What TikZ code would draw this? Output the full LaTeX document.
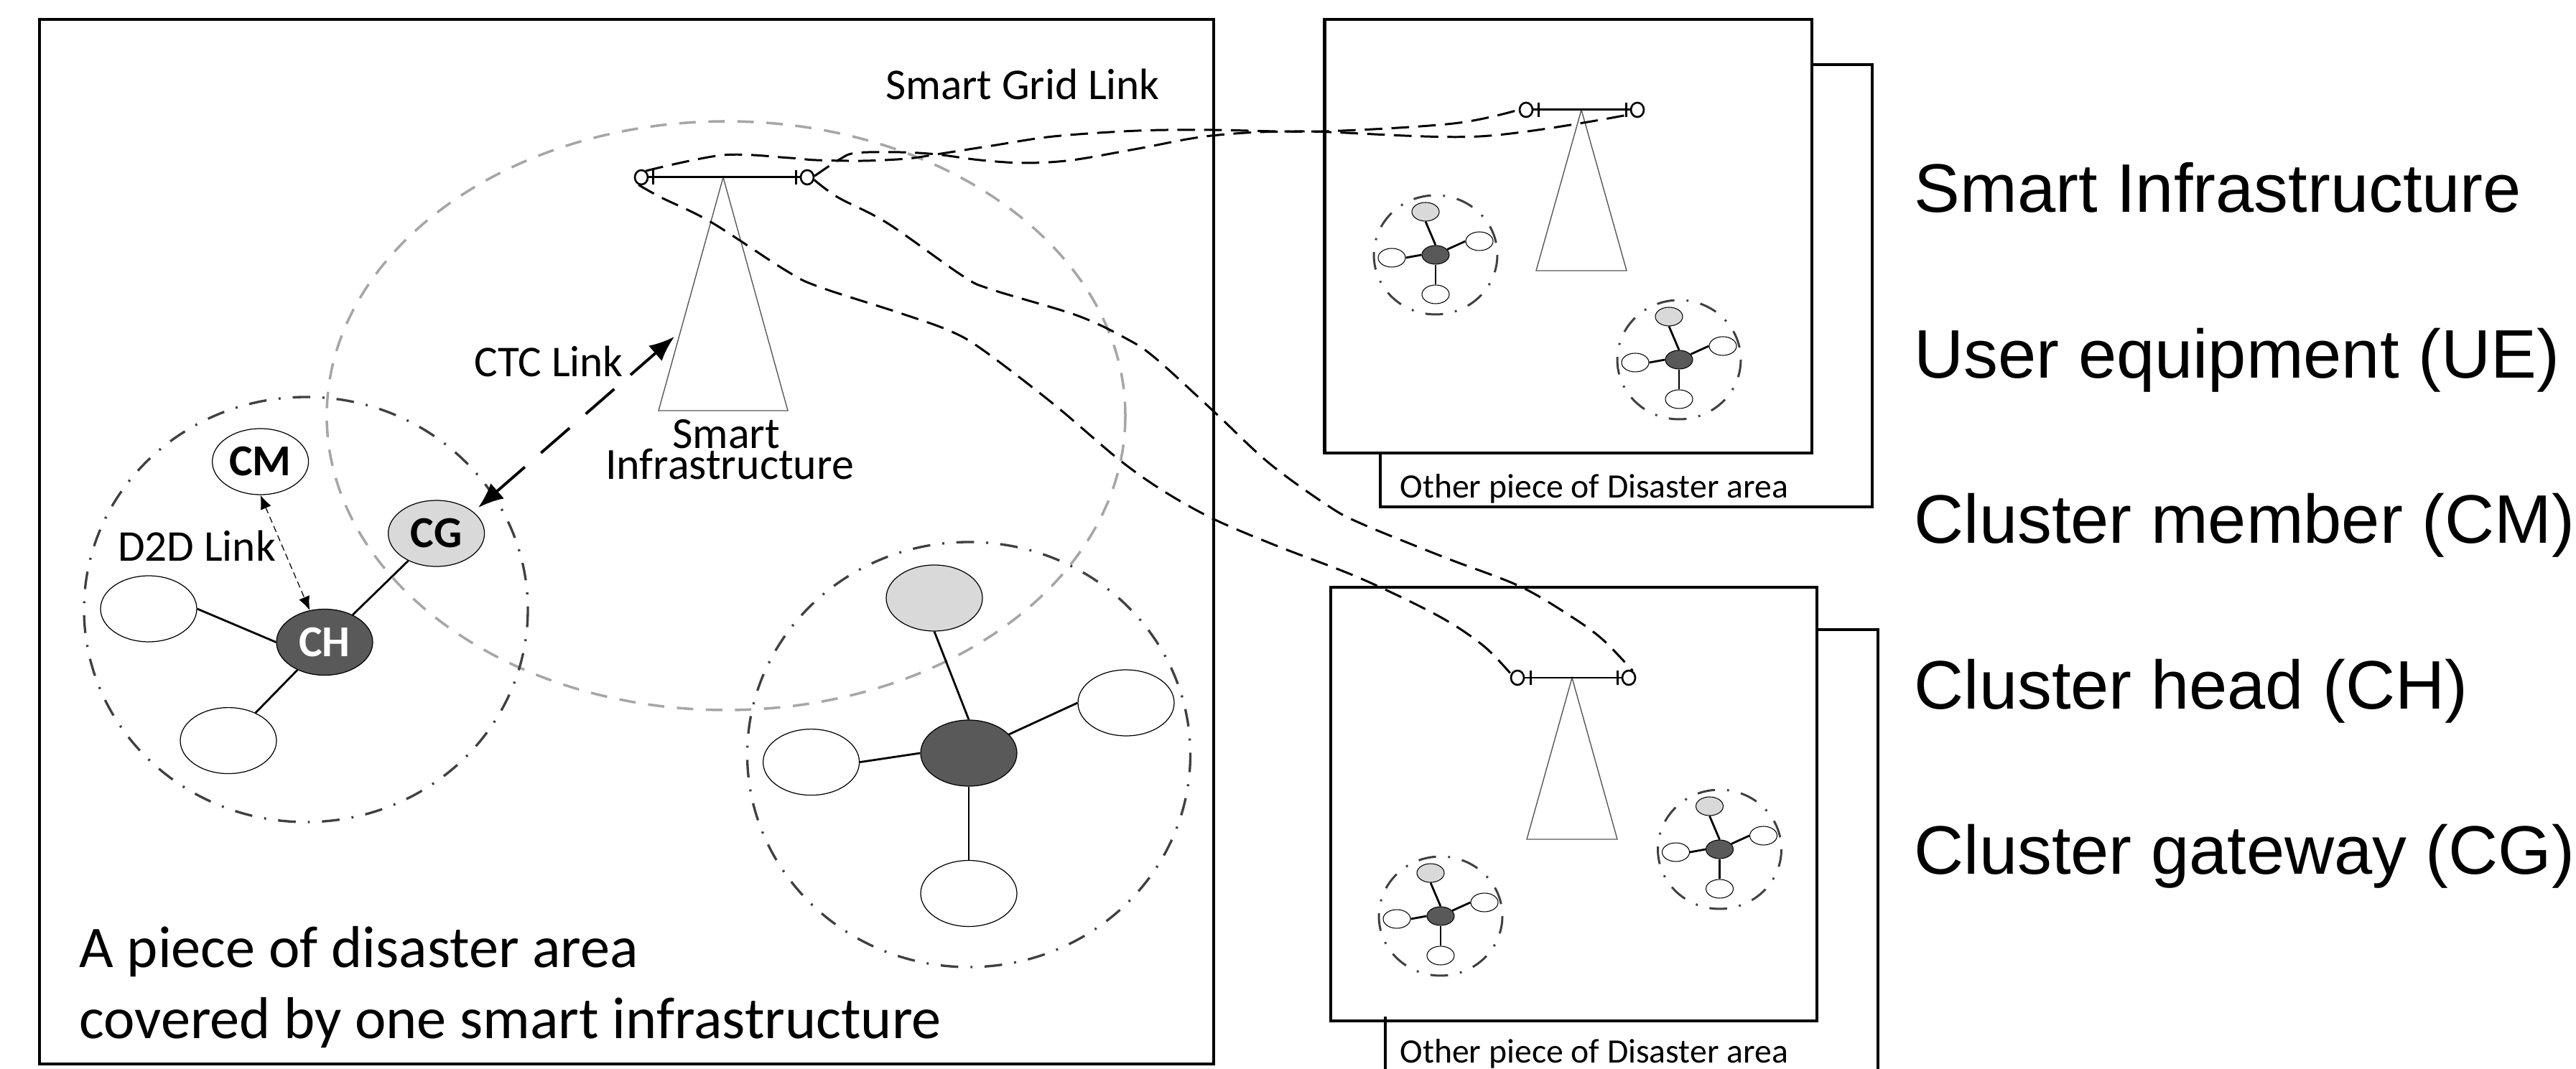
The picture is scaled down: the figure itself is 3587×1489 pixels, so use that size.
\documentclass[tikz,border=0pt]{standalone}
\usepackage{fontspec}
\setmainfont{Carlito}
\newfontfamily\arialfont{Liberation Sans}
\usetikzlibrary{shapes.geometric,arrows.meta}
\definecolor{chdark}{HTML}{595959}
\definecolor{cglight}{HTML}{D9D9D9}
\definecolor{clusterline}{HTML}{404040}
\definecolor{rangegrey}{HTML}{A6A6A6}
\newdimen\ul \ul=0.01cm
\tikzset{
  framebox/.style={draw=black,line width=1.15pt},
  rangeellipse/.style={draw=rangegrey,line width=1pt,dash pattern=on 6.5pt off 5pt},
  clusterring/.style={draw=clusterline,line width=.95pt,dash pattern=on 7pt off 4.8pt on .8pt off 4.8pt},
  miniring/.style={draw=clusterline,line width=.85pt,dash pattern=on 7pt off 4.8pt on .8pt off 4.8pt},
  uebig/.style={ellipse,draw=black,line width=.35pt,minimum width=134\ul,minimum height=92\ul,inner sep=0pt,fill=white},
  uesmall/.style={ellipse,draw=black,line width=.3pt,minimum width=38\ul,minimum height=26\ul,inner sep=0pt,fill=white},
  spoke/.style={draw=black,line width=.8pt},
  pylon/.style={draw=black!65,line width=.4pt},
  polebar/.style={draw=black,line width=.85pt},
  polecap/.style={ellipse,draw=black,line width=.75pt,minimum width=18\ul,minimum height=20\ul,inner sep=0pt,fill=white},
  gridlink/.style={draw=black,line width=.85pt,dash pattern=on 7pt off 3.6pt},
  ctclink/.style={draw=black,line width=1.1pt,dash pattern=on 15pt off 8.5pt,{Latex[length=10pt,width=8pt]}-{Latex[length=10pt,width=8pt]}},
  dlink/.style={draw=black,line width=.35pt,dash pattern=on 2.5pt off 1.5pt,{Latex[length=5.5pt,width=4.5pt]}-{Latex[length=5.5pt,width=4.5pt]}},
  lbl/.style={font=\fontsize{17.4pt}{19pt}\selectfont,inner sep=0pt},
  boldlbl/.style={font=\fontsize{17.5pt}{19pt}\selectfont\bfseries},
  bigtext/.style={font=\fontsize{23.4pt}{25pt}\selectfont,inner sep=0pt,anchor=west},
  othertext/.style={font=\fontsize{13.55pt}{15pt}\selectfont,inner sep=0pt,anchor=west},
  legend/.style={font=\arialfont\fontsize{27.2pt}{30pt}\selectfont,inner sep=0pt,anchor=base west},
}
% mini cluster: prefix, centre x, centre y
\newcommand{\minicluster}[3]{%
  \begin{scope}[shift={(#2,#3)}]
    \draw[miniring] (0,0) ellipse [x radius=86,y radius=83];
    \node[uesmall,fill=chdark] (#1h) at (0,0) {};
    \node[uesmall,fill=cglight] (#1g) at (-14,-60) {};
    \node[uesmall] (#1r) at (61,-19) {};
    \node[uesmall] (#1l) at (-61,4) {};
    \node[uesmall] (#1b) at (0,55) {};
    \draw[spoke] (#1h.north) -- (#1g.south);
    \draw[spoke] (#1h.25) -- (#1r.west);
    \draw[spoke] (#1h.west) -- (#1l.east);
    \draw[spoke] (#1h) -- (#1b);
  \end{scope}}
% pole with triangle: prefix, apex x, apex y, cap left, cap right, tick left, tick right, height, half base
\newcommand{\poleunit}[9]{%
  \begin{scope}[shift={(#2,#3)}]
    \coordinate (#1apex) at (0,0);
    \coordinate (#1bl) at (-#9,#8);
    \coordinate (#1br) at (#9,#8);
    \draw[pylon] (#1apex) -- (#1bl) -- (#1br) -- cycle;
    \node[polecap] (#1cl) at (-#4,0) {};
    \node[polecap] (#1cr) at (#5,0) {};
    \draw[polebar] (#1cl) -- (#1cr);
    \draw[polebar] (-#6,-10) -- (-#6,10);
    \draw[polebar] (#7,-10) -- (#7,10);
  \end{scope}}
\begin{document}
\begin{tikzpicture}[x=0.01cm,y=-0.01cm]
\useasboundingbox (0,0) rectangle (3587,1489);
% frames
\draw[framebox] (1922,631) -- (1922,706) -- (2607,706) -- (2607,90) -- (2523,90);
\draw[framebox] (2530,877) -- (2615,877) -- (2615,1489);
\draw[framebox] (55,27) rectangle (1690,1482);
\draw[framebox,fill=white] (1844.5,27) rectangle (2523,631);
\draw[framebox,fill=white] (1852.6,818) rectangle (2530,1422);
\draw[framebox] (1929,1416) -- (1929,1489);
% range ellipse
\draw[rangeellipse] (1011,579) ellipse [x radius=556,y radius=410];
% left cluster
\draw[clusterring] (426,849) ellipse [x radius=309,y radius=296];
\node[uebig,boldlbl] (cm) at (362.6,643) {CM};
\node[uebig,boldlbl,fill=cglight] (cg) at (607.6,743) {CG};
\node[uebig,boldlbl,fill=chdark,text=white] (ch) at (452,894.5) {CH};
\node[uebig] (ueleft) at (207,848) {};
\node[uebig] (uebot) at (318,1031.6) {};
\draw[spoke] (ch) -- (cg);
\draw[spoke] (ch.west) -- (ueleft.east);
\draw[spoke] (ch) -- (uebot);
\draw[dlink] (cm.south) -- (ch.115);
% lower-right cluster
\draw[clusterring] (1349,1051) ellipse [x radius=308.5,y radius=296];
\node[uebig,fill=chdark] (bh) at (1349,1049) {};
\node[uebig,fill=cglight] (bg) at (1301,833) {};
\node[uebig] (br) at (1568,979) {};
\node[uebig] (bl) at (1129.6,1061.6) {};
\node[uebig] (bb) at (1349,1244.5) {};
\draw[spoke] (bh.north) -- (bg.south);
\draw[spoke] (bh.25) -- (br.west);
\draw[spoke] (bh.west) -- (bl.east);
\draw[spoke] (bh) -- (bb);
% poles
\poleunit{m}{1007}{247}{114}{117}{98}{101}{325}{90}
\poleunit{a}{2202}{153}{77}{78}{60}{62}{224}{63}
\poleunit{c}{2189}{944}{76}{79}{58}{63}{225}{63}
% mini clusters
\minicluster{p}{1999}{355}
\minicluster{q}{2338}{501}
\minicluster{s}{2006}{1276}
\minicluster{t}{2394.5}{1183}
% CTC link
\coordinate (ctctip) at (939,469);
\coordinate (cgtip) at (666,707);
\draw[ctclink] (cgtip) -- (ctctip);
% smart grid links
\draw[gridlink] plot[smooth,tension=.55] coordinates {(mcl.55) (1007,216) (1100,220) (1136,223) (1202,224) (1263,221) (1304,215) (1381,203) (1467,190) (1585,182) (1687,181) (1840,183) (2024,172) (acl.west)};
\draw[gridlink] plot[smooth,tension=.55] coordinates {(mcr.10) (1169,222) (1192,213) (1253,212) (1304,215) (1365,223) (1427,227) (1493,223) (1585,207) (1687,189) (1814,183) (2060,190) (acr.215)};
\draw[gridlink] plot[smooth,tension=.55] coordinates {(mcl.250) (920.5,275) (989.5,309) (1093,376) (1139,399) (1253,436) (1322,460.6) (1368,487) (1466,562) (1558,640) (1621,684.5) (1690,723) (1777,760) (1893,805) (2003,858) (2065,899) (ccl.150)};
\draw[gridlink] plot[smooth,tension=.55] coordinates {(mcr.-20) (1167,275) (1236,311) (1340,384) (1380,403) (1500,439.5) (1569,472) (1609,499) (1690,573) (1767,645) (1850,705) (1897,730) (2013,777) (2117,817) (2192,861.5) (2233,892) (ccr.60)};
% labels
\node[lbl] (sgl) at (1424,117) {Smart Grid Link};
\node[lbl] (ctcl) at (764,503) {CTC Link};
\node[lbl] (d2d) at (274,760) {D2D Link};
\node[lbl,align=center,font=\fontsize{17.6pt}{12.2pt}\selectfont] (si) at (1016,626) {Smart\kern2.8pt\\Infrastructure};
\node[bigtext] (t1) at (110,1326) {A piece of disaster area};
\node[bigtext] (t2) at (110,1425) {covered by one smart infrastructure};
\node[othertext] (o1) at (1949,681) {Other piece of Disaster area};
\node[othertext] (o2) at (1949,1468) {Other piece of Disaster area};
\node[legend] (l1) at (2665,296) {Smart Infrastructure};
\node[legend] (l2) at (2665,526.5) {User equipment (UE)};
\node[legend] (l3) at (2665,757) {Cluster member (CM)};
\node[legend] (l4) at (2665,987.5) {Cluster head (CH)};
\node[legend] (l5) at (2665,1218) {Cluster gateway (CG)};
\end{tikzpicture}
\end{document}
